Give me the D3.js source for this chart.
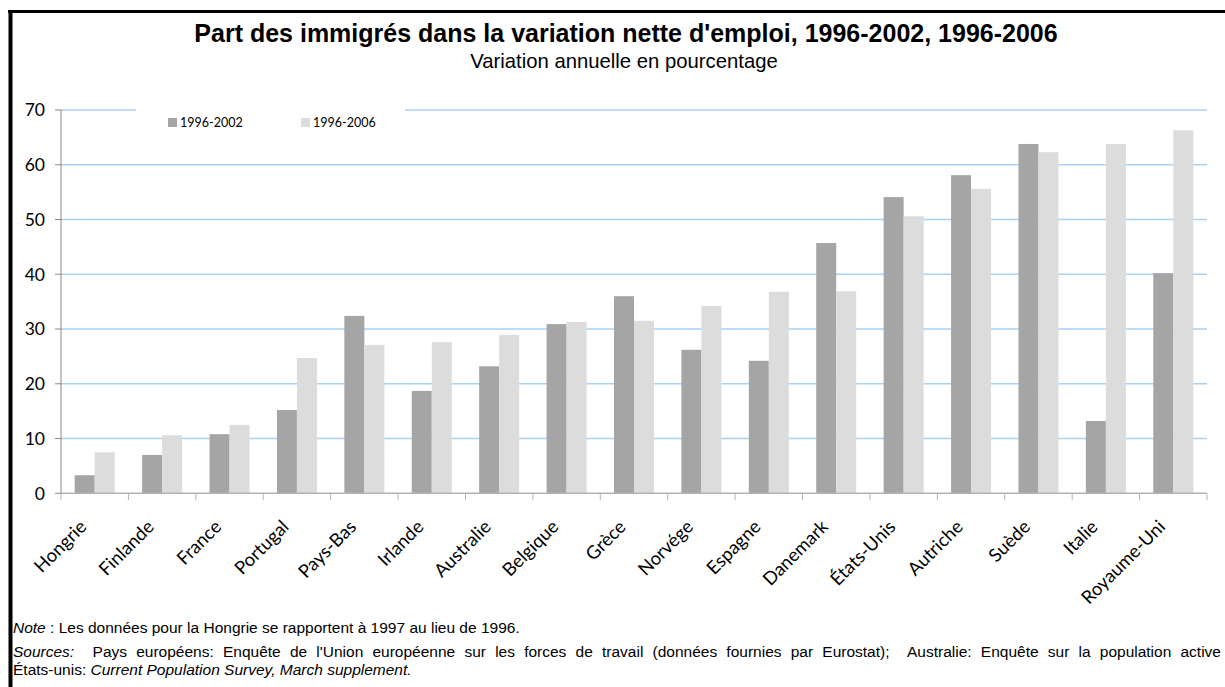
<!DOCTYPE html>
<html>
<head>
<meta charset="utf-8">
<script src="https://cdn.jsdelivr.net/npm/d3@7"></script>
<style>
  html, body { margin: 0; padding: 0; background: #fff; }
  svg { display: block; }
</style>
</head>
<body>
<svg id="chart" width="1225" height="687"></svg>
<script>
const categories = ["Hongrie","Finlande","France","Portugal","Pays-Bas","Irlande","Australie","Belgique","Grèce","Norvége","Espagne","Danemark","États-Unis","Autriche","Suède","Italie","Royaume-Uni"];
const seriesNames = ["1996-2002", "1996-2006"];
const values1996_2002 = [3.3, 7.0, 10.8, 15.2, 32.4, 18.7, 23.2, 30.9, 36.0, 26.2, 24.2, 45.7, 54.1, 58.1, 63.8, 13.2, 40.2];
const values1996_2006 = [7.5, 10.6, 12.5, 24.7, 27.1, 27.6, 28.9, 31.3, 31.5, 34.2, 36.8, 36.9, 50.6, 55.6, 62.3, 63.8, 66.3];
const yTicks = [0, 10, 20, 30, 40, 50, 60, 70];
const seriesColors = ["#a5a5a5", "#dcdcdc"];

const svg = d3.select("#chart");
const plot = { left: 61, right: 1207, top: 110, bottom: 493.3 };

// frame
svg.append("line").attr("x1", 8).attr("x2", 1225).attr("y1", 11.5).attr("y2", 11.5)
  .attr("stroke", "#000").attr("stroke-width", 3);
svg.append("line").attr("x1", 10.5).attr("x2", 10.5).attr("y1", 10).attr("y2", 687)
  .attr("stroke", "#000").attr("stroke-width", 4);

// titles
svg.append("text").attr("x", 626).attr("y", 42).attr("text-anchor", "middle")
  .attr("font-family", "Liberation Sans, Arial, sans-serif").attr("font-weight", "bold")
  .attr("font-size", 25).attr("fill", "#000")
  .text("Part des immigrés dans la variation nette d'emploi, 1996-2002, 1996-2006");
svg.append("text").attr("x", 624).attr("y", 68).attr("text-anchor", "middle")
  .attr("font-family", "Liberation Sans, Arial, sans-serif")
  .attr("font-size", 20.3).attr("fill", "#000")
  .text("Variation annuelle en pourcentage");

const x = d3.scaleBand().domain(categories).range([plot.left, plot.right]).paddingInner(0).paddingOuter(0);
const xSub = d3.scaleBand().domain(seriesNames).range([0, x.bandwidth()]).paddingInner(0).paddingOuter(0.685);
const y = d3.scaleLinear().domain([0, 70]).range([plot.bottom, plot.top]);

// gridlines
const grid = svg.append("g");
yTicks.filter(t => t > 0).forEach(t => {
  grid.append("line").attr("x1", plot.left).attr("x2", plot.right)
    .attr("y1", y(t)).attr("y2", y(t))
    .attr("stroke", "#a9d1f7").attr("stroke-width", 1.5);
});

// bars
const data = categories.map((c, i) => ({ c, vals: [values1996_2002[i], values1996_2006[i]] }));
const groups = svg.append("g").selectAll("g").data(data).join("g")
  .attr("transform", d => `translate(${x(d.c)},0)`);
groups.selectAll("rect").data(d => d.vals.map((v, k) => ({ v, s: seriesNames[k], k })))
  .join("rect")
  .attr("x", d => xSub(d.s))
  .attr("width", xSub.bandwidth())
  .attr("y", d => y(d.v))
  .attr("height", d => y(0) - y(d.v))
  .attr("fill", d => seriesColors[d.k]);

// legend background (breaks the top gridline)
svg.append("rect").attr("x", 136).attr("y", 104).attr("width", 269).attr("height", 30).attr("fill", "#fff");
const legendX = [168, 301];
seriesNames.forEach((s, k) => {
  svg.append("rect").attr("x", legendX[k]).attr("y", 118).attr("width", 9).attr("height", 9).attr("fill", seriesColors[k]);
  svg.append("text").attr("x", legendX[k] + 12).attr("y", 122.5).attr("dy", "0.35em")
    .attr("font-family", "Lato, sans-serif").attr("font-size", 12.5).attr("fill", "#000").text(s);
});

// y axis
const yAxis = svg.append("g");
yAxis.append("line").attr("x1", plot.left).attr("x2", plot.left).attr("y1", plot.top).attr("y2", plot.bottom)
  .attr("stroke", "#868686").attr("stroke-width", 1);
yTicks.forEach(t => {
  yAxis.append("line").attr("x1", plot.left - 6).attr("x2", plot.left).attr("y1", y(t)).attr("y2", y(t))
    .attr("stroke", "#868686").attr("stroke-width", 1);
  yAxis.append("text").attr("x", 45).attr("y", y(t)).attr("dy", "0.36em").attr("text-anchor", "end")
    .attr("font-family", "Lato, sans-serif").attr("font-size", 17.5).attr("fill", "#000").text(t);
});

// x axis
const xAxis = svg.append("g");
xAxis.append("line").attr("x1", plot.left).attr("x2", plot.right).attr("y1", plot.bottom).attr("y2", plot.bottom)
  .attr("stroke", "#b3b3b3").attr("stroke-width", 1.5);
const boundaries = categories.map(c => x(c)).concat([plot.right]);
boundaries.forEach(bx => {
  xAxis.append("line").attr("x1", bx).attr("x2", bx).attr("y1", plot.bottom).attr("y2", plot.bottom + 7)
    .attr("stroke", "#b3b3b3").attr("stroke-width", 1);
});
categories.forEach(c => {
  const cx = x(c) + x.bandwidth() / 2;
  xAxis.append("text").attr("transform", `translate(${cx - 7},${528}) rotate(-45)`)
    .attr("text-anchor", "end")
    .attr("font-family", "Lato, sans-serif").attr("font-size", 18.4).attr("fill", "#000").text(c);
});

// notes
const noteFont = "Liberation Sans, Arial, sans-serif";
const noteSize = 15.5;
const note = svg.append("text").attr("x", 13).attr("y", 633).attr("font-family", noteFont).attr("font-size", noteSize).attr("fill", "#000");
note.append("tspan").attr("font-style", "italic").text("Note");
note.append("tspan").text(" : Les données pour la Hongrie se rapportent à 1997 au lieu de 1996.");

const src = svg.append("text").attr("x", 13).attr("y", 657).attr("font-family", noteFont).attr("font-size", noteSize)
  .attr("fill", "#000").style("white-space", "pre");
src.append("tspan").attr("font-style", "italic").text("Sources:");
src.append("tspan").text("  Pays européens: Enquête de l'Union européenne sur les forces de travail (données fournies par Eurostat);  Australie: Enquête sur la population active");
// justify: stretch word spacing so "active" ends at the right edge, as in the original
const targetLen = 1221 - 13;
const spaces = (src.text().match(/ /g) || []).length;
let ws = 0;
for (let it = 0; it < 4; it++) {
  const len = src.node().getComputedTextLength();
  ws += (targetLen - len) / spaces;
  src.attr("word-spacing", ws);
}

const src2 = svg.append("text").attr("x", 13).attr("y", 675).attr("font-family", noteFont).attr("font-size", noteSize).attr("fill", "#000");
src2.append("tspan").text("États-unis: ");
src2.append("tspan").attr("font-style", "italic").text("Current Population Survey, March supplement.");
</script>
</body>
</html>
